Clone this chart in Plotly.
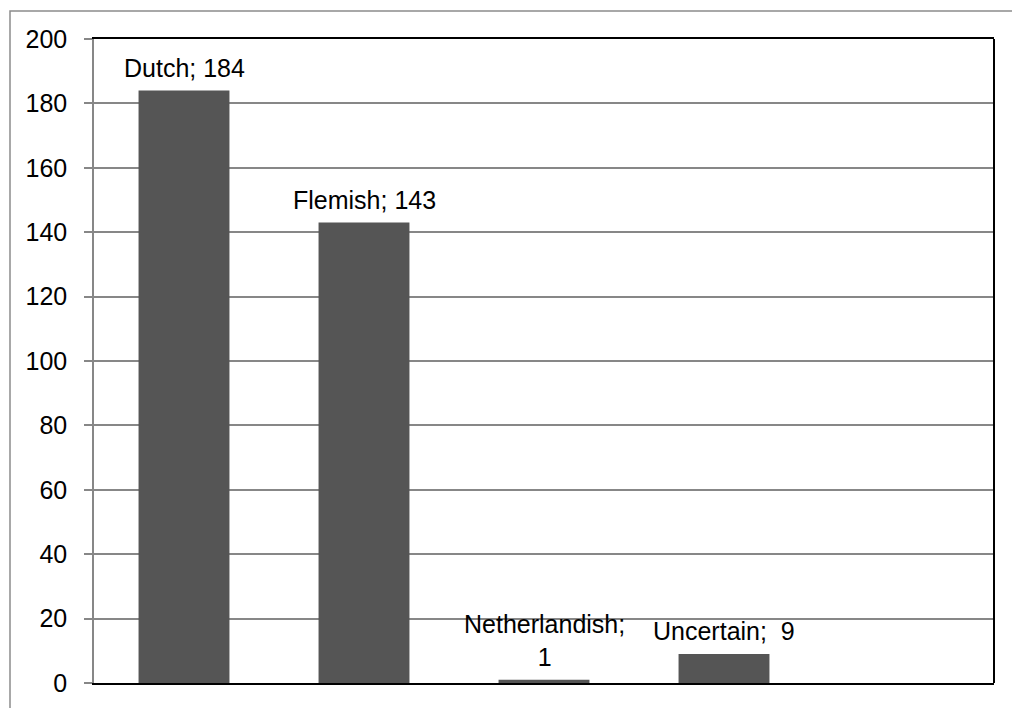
import plotly.graph_objects as go

# Attribution of paintings by school
categories = ["Dutch", "Flemish", "Netherlandish", "Uncertain"]
counts = [184, 143, 1, 9]
label_text = ["Dutch; 184", "Flemish; 143", "Netherlandish;<br>1", "Uncertain;  9"]
y_ticks = [0, 20, 40, 60, 80, 100, 120, 140, 160, 180, 200]

positions = list(range(len(categories)))
FONT = "Liberation Sans, Arial, sans-serif"

fig = go.Figure()
fig.add_trace(go.Bar(
    x=positions,
    y=counts,
    width=0.505,
    marker=dict(color="#555555", line=dict(width=0)),
    hoverinfo="skip",
))

# value labels sit just above each bar
for pos, value, label in zip(positions, counts, label_text):
    fig.add_annotation(
        x=pos, y=value, text=label,
        xref="x", yref="y",
        showarrow=False,
        yanchor="bottom",
        yshift=7,
        font=dict(family=FONT, size=25, color="#000000"),
    )

fig.update_layout(
    width=1012,
    height=708,
    margin=dict(l=94, r=18, t=39, b=25),
    paper_bgcolor="#ffffff",
    plot_bgcolor="#ffffff",
    showlegend=False,
    font=dict(family=FONT, size=25, color="#000000"),
    xaxis=dict(
        range=[-0.5, 4.5],
        showticklabels=False,
        showgrid=False,
        zeroline=False,
        showline=True,
        linecolor="#000000",
        linewidth=2,
        mirror=True,
        ticks="",
    ),
    yaxis=dict(
        range=[0, 200],
        tickvals=y_ticks,
        showgrid=True,
        gridcolor="#878787",
        gridwidth=1.5,
        zeroline=False,
        showline=True,
        linecolor="#878787",
        linewidth=1.5,
        ticks="outside",
        ticklen=8,
        tickcolor="#878787",
        tickwidth=1.5,
        ticklabelstandoff=12,
        tickfont=dict(family=FONT, size=25, color="#000000"),
    ),
    shapes=[
        # right edge of the plot frame
        dict(type="line", xref="paper", yref="paper", x0=1, x1=1, y0=0, y1=1,
             line=dict(color="#000000", width=2)),
        # outer chart border
        dict(type="rect", xref="paper", yref="paper",
             x0=(10 - 94) / 900, x1=(1030 - 94) / 900,
             y0=(683 - 730) / 644, y1=(683 - 11) / 644,
             line=dict(color="#8c8c8c", width=1.5), layer="below"),
    ],
)

fig.write_html("out.html")
